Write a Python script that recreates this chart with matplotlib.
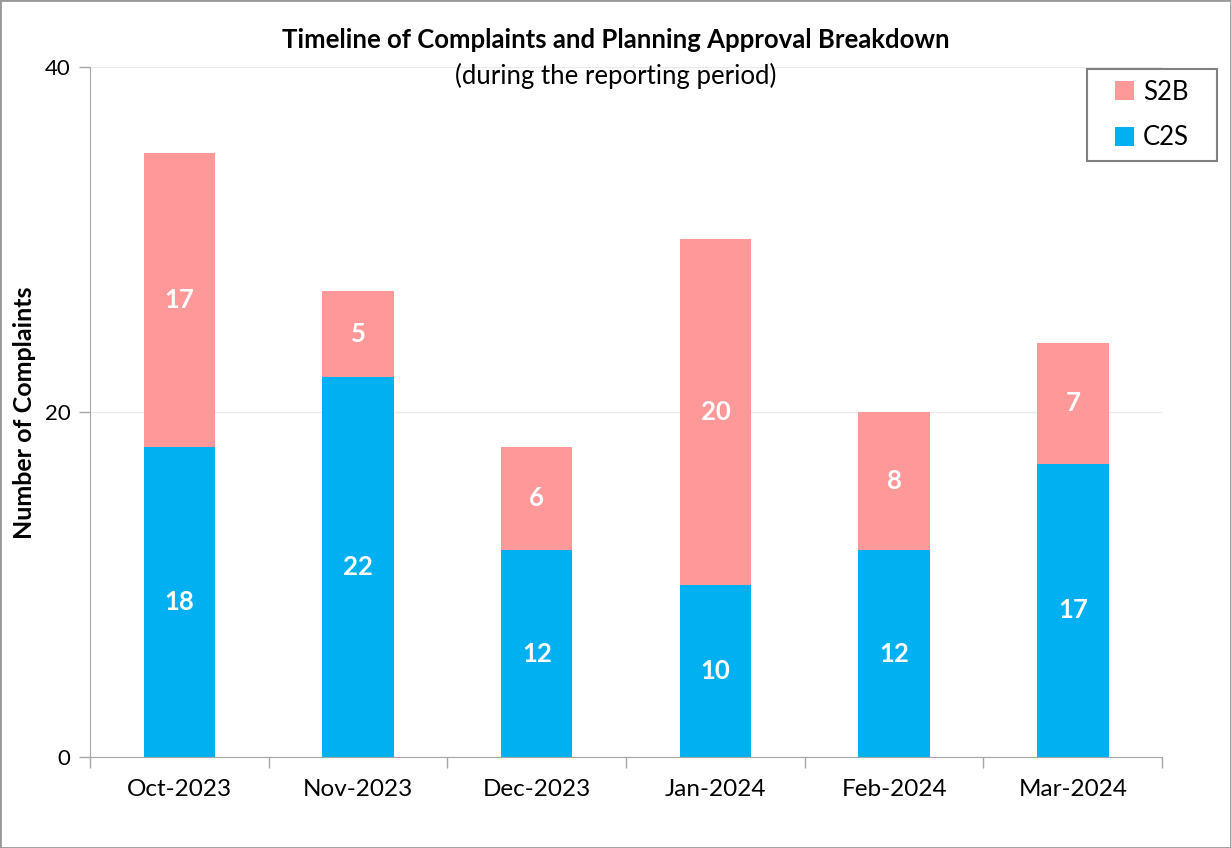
import numpy as np
import matplotlib.pyplot as plt
from matplotlib.patches import Rectangle

plt.rcParams['font.family'] = ['Lato', 'DejaVu Sans']

months = ['Oct-2023', 'Nov-2023', 'Dec-2023', 'Jan-2024', 'Feb-2024', 'Mar-2024']
c2s = [18, 22, 12, 10, 12, 17]
s2b = [17, 5, 6, 20, 8, 7]

blue = '#00B0F0'
pink = '#FF9999'
grey = '#A6A6A6'

W, H = 1231, 848
fig = plt.figure(figsize=(W / 100, H / 100), dpi=100)
ax = fig.add_axes([0.0731, 0.1073, 0.871, 0.8137])

x = np.arange(len(months))
w = 0.4
b1 = ax.bar(x, c2s, w, color=blue, label='C2S', zorder=2)
b2 = ax.bar(x, s2b, w, bottom=c2s, color=pink, label='S2B', zorder=2)

for i in range(len(months)):
    ax.text(x[i], c2s[i] / 2, str(c2s[i]), ha='center', va='center',
            color='white', fontsize=18.5, fontweight='bold', zorder=3)
    ax.text(x[i], c2s[i] + s2b[i] / 2, str(s2b[i]), ha='center', va='center',
            color='white', fontsize=18.5, fontweight='bold', zorder=3)

ax.set_xlim(-0.5, len(months) - 0.5)
ax.set_ylim(0, 40)
ax.set_yticks([0, 20, 40])
ax.yaxis.grid(True, color='#EBEBEB', linewidth=1, zorder=0)
ax.set_xticks(x)
ax.set_xticklabels(months)
ax.set_xticks(np.arange(-0.5, len(months)), minor=True)
ax.tick_params(axis='x', which='major', length=0, pad=16, labelsize=17.5)
ax.tick_params(axis='x', which='minor', length=8, color=grey, width=1)
ax.tick_params(axis='y', length=8, color=grey, width=1, labelsize=16, pad=6)

for s in ['top', 'right']:
    ax.spines[s].set_visible(False)
for s in ['left', 'bottom']:
    ax.spines[s].set_color(grey)

fig.text(25 / W, 0.513, 'Number of Complaints', rotation=90, ha='center',
         va='center', fontsize=18, fontweight='bold')

fig.text(0.5, 0.953, 'Timeline of Complaints and Planning Approval Breakdown',
         ha='center', va='center', fontsize=18.5, fontweight='bold')
fig.text(0.5, 0.911, '(during the reporting period)', ha='center', va='center',
         fontsize=18.5)

# legend box drawn by hand, legend entries centred inside it
bx0, bx1, by0, by1 = 1087, 1217, 69, 161
fig.patches.append(Rectangle((bx0 / W, 1 - by1 / H), (bx1 - bx0) / W, (by1 - by0) / H,
                             transform=fig.transFigure, fill=False,
                             edgecolor='#808080', linewidth=1.5, zorder=5))
leg = ax.legend(handles=[b2, b1], loc='center',
                bbox_to_anchor=((bx0 + bx1) / 2 / W, 1 - (by0 + by1) / 2 / H),
                bbox_transform=fig.transFigure, frameon=False, fontsize=18.5,
                handlelength=0.75, handleheight=0.75, labelspacing=0.8,
                borderpad=0, handletextpad=0.35)

fig.patches.append(Rectangle((0, 0), 1, 1, transform=fig.transFigure,
                             fill=False, edgecolor='#999999', linewidth=2))

fig.savefig('out.png', dpi=100)
